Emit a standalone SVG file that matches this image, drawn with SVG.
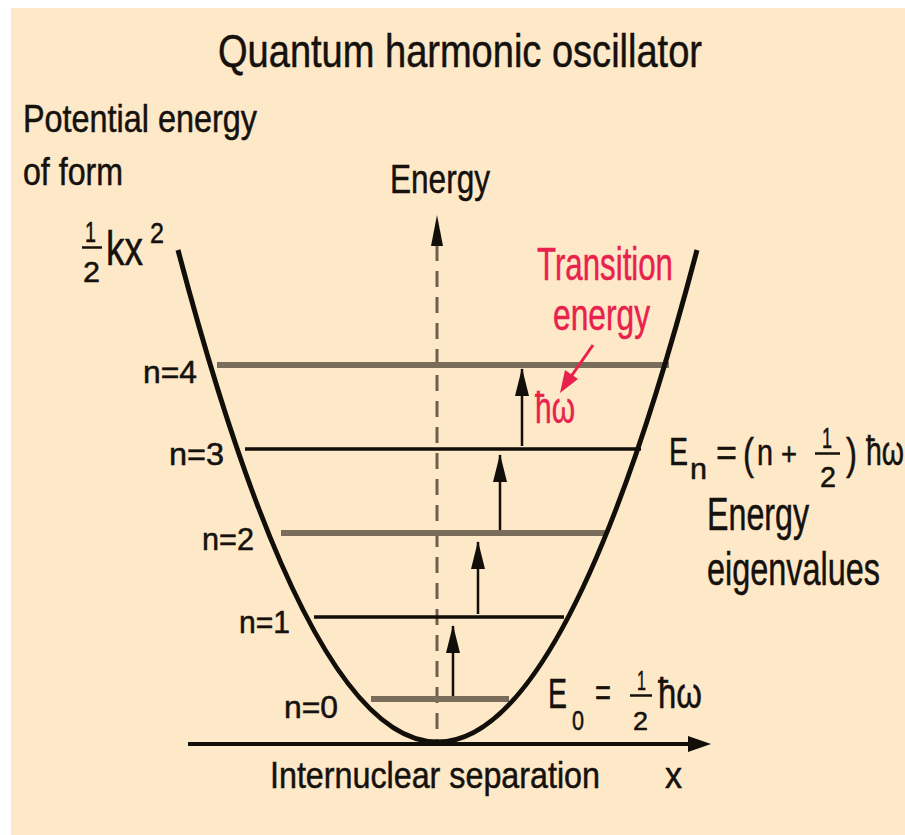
<svg xmlns="http://www.w3.org/2000/svg" width="905" height="835" viewBox="0 0 905 835">
<style>
  text { font-family: "Liberation Sans", Arial, sans-serif; fill: #15110d; stroke: #15110d; stroke-width: 0.5; }
  .red { fill: #e8224c; stroke: #e8224c; }
  .lvlg { stroke: #7a6c5a; stroke-width: 6; }
  .lvlb { stroke: #120e0a; stroke-width: 3.5; }
  .up { stroke: #120e0a; stroke-width: 2.5; fill: none; marker-end: url(#ah); }
</style>
<defs>
  <marker id="ah" markerUnits="userSpaceOnUse" markerWidth="16" markerHeight="30" viewBox="0 0 16 30" refX="8" refY="1" orient="0">
    <polygon points="8,0 15,28 1,28" fill="#120e0a"/>
  </marker>
</defs>
<rect x="0" y="0" width="905" height="835" fill="#ffffff"/>
<rect x="11" y="8" width="894" height="827" fill="#fde8c8"/>

<g id="title">
  <text x="218" y="67" font-size="46" textLength="484" lengthAdjust="spacingAndGlyphs">Quantum harmonic oscillator</text>
</g>

<g id="potential-label">
  <text x="23" y="132" font-size="38" textLength="234" lengthAdjust="spacingAndGlyphs">Potential energy</text>
  <text x="23" y="185" font-size="38" textLength="100" lengthAdjust="spacingAndGlyphs">of form</text>
  <text x="85" y="242" font-size="30" textLength="11" lengthAdjust="spacingAndGlyphs">1</text>
  <line x1="82" y1="247.5" x2="102" y2="247.5" stroke="#15110d" stroke-width="2.5"/>
  <text x="83" y="282" font-size="30" textLength="17" lengthAdjust="spacingAndGlyphs">2</text>
  <text x="106" y="265" font-size="48" textLength="37" lengthAdjust="spacingAndGlyphs">kx</text>
  <text x="150" y="243" font-size="30" textLength="14" lengthAdjust="spacingAndGlyphs">2</text>
</g>

<g id="energy-axis">
  <line x1="437" y1="245" x2="437" y2="742" stroke="#6e604e" stroke-width="3" stroke-dasharray="16 10"/>
  <polygon points="437,215 443,246 431,246" fill="#120e0a"/>
  <text x="390" y="193" font-size="41" textLength="100" lengthAdjust="spacingAndGlyphs">Energy</text>
</g>

<g id="levels">
  <line class="lvlg" x1="217" y1="365" x2="669" y2="365"/>
  <line class="lvlb" x1="245" y1="449" x2="641" y2="449"/>
  <line class="lvlg" x1="281" y1="533" x2="605" y2="533"/>
  <line class="lvlb" x1="314" y1="617" x2="564" y2="617"/>
  <line class="lvlg" x1="371" y1="699" x2="509" y2="699"/>
</g>

<g id="level-labels">
  <text x="143" y="383" font-size="31" textLength="54" lengthAdjust="spacingAndGlyphs">n=4</text>
  <text x="169" y="465" font-size="31" textLength="55" lengthAdjust="spacingAndGlyphs">n=3</text>
  <text x="202" y="550" font-size="31" textLength="52" lengthAdjust="spacingAndGlyphs">n=2</text>
  <text x="239" y="633" font-size="31" textLength="51" lengthAdjust="spacingAndGlyphs">n=1</text>
  <text x="284" y="718" font-size="31" textLength="54" lengthAdjust="spacingAndGlyphs">n=0</text>
</g>

<g id="x-axis">
  <line x1="188" y1="744" x2="692" y2="744" stroke="#120e0a" stroke-width="4"/>
  <polygon points="711,744 688,736 688,752" fill="#120e0a"/>
  <text x="270" y="788" font-size="36" textLength="330" lengthAdjust="spacingAndGlyphs">Internuclear separation</text>
  <text x="665" y="788" font-size="36" textLength="17" lengthAdjust="spacingAndGlyphs">x</text>
</g>

<g id="potential-curve">
  <path d="M178,250 Q437.5,1234 697,250" fill="none" stroke="#120e0a" stroke-width="5"/>
</g>

<g id="connectors">
  <line class="up" x1="453" y1="696" x2="453" y2="626"/>
  <line class="up" x1="478" y1="614" x2="478" y2="542"/>
  <line class="up" x1="500" y1="530" x2="500" y2="455"/>
  <line class="up" x1="522" y1="446" x2="522" y2="369"/>
  <line x1="593" y1="345" x2="570" y2="378" stroke="#e8224c" stroke-width="3"/>
  <polygon points="560,393 565,370 578,379" fill="#e8224c"/>
</g>

<g id="transition-label">
  <text class="red" x="537" y="280" font-size="46" textLength="136" lengthAdjust="spacingAndGlyphs">Transition</text>
  <text class="red" x="553" y="330" font-size="44" textLength="97" lengthAdjust="spacingAndGlyphs">energy</text>
  <text class="red" x="535" y="423" font-size="44" textLength="40" lengthAdjust="spacingAndGlyphs">ħω</text>
</g>

<g id="eigen-label">
  <text x="669" y="465" font-size="39" textLength="19" lengthAdjust="spacingAndGlyphs">E</text>
  <text x="690" y="479" font-size="30" textLength="17" lengthAdjust="spacingAndGlyphs">n</text>
  <text x="716" y="465" font-size="36" textLength="21" lengthAdjust="spacingAndGlyphs">=</text>
  <text x="743" y="469" font-size="44" textLength="11" lengthAdjust="spacingAndGlyphs">(</text>
  <text x="757" y="465" font-size="36" textLength="16" lengthAdjust="spacingAndGlyphs">n</text>
  <text x="781" y="465" font-size="32" textLength="16" lengthAdjust="spacingAndGlyphs">+</text>
  <text x="822" y="448" font-size="30" textLength="10" lengthAdjust="spacingAndGlyphs">1</text>
  <line x1="815" y1="453.5" x2="840" y2="453.5" stroke="#15110d" stroke-width="2.5"/>
  <text x="820" y="487" font-size="30" textLength="16" lengthAdjust="spacingAndGlyphs">2</text>
  <text x="846" y="469" font-size="44" textLength="11" lengthAdjust="spacingAndGlyphs">)</text>
  <text x="866" y="465" font-size="40" textLength="38" lengthAdjust="spacingAndGlyphs">ħω</text>
  <text x="707" y="530" font-size="46" textLength="102" lengthAdjust="spacingAndGlyphs">Energy</text>
  <text x="707" y="585" font-size="46" textLength="173" lengthAdjust="spacingAndGlyphs">eigenvalues</text>
</g>

<g id="ground-label">
  <text x="548" y="708" font-size="42" textLength="19" lengthAdjust="spacingAndGlyphs">E</text>
  <text x="572" y="730" font-size="28" textLength="12" lengthAdjust="spacingAndGlyphs">0</text>
  <text x="595" y="706" font-size="38" textLength="16" lengthAdjust="spacingAndGlyphs">=</text>
  <text x="637" y="690" font-size="28" textLength="9" lengthAdjust="spacingAndGlyphs">1</text>
  <line x1="630" y1="695.5" x2="652" y2="695.5" stroke="#15110d" stroke-width="2.5"/>
  <text x="633" y="730" font-size="26" textLength="15" lengthAdjust="spacingAndGlyphs">2</text>
  <text x="658" y="708" font-size="42" textLength="44" lengthAdjust="spacingAndGlyphs">ħω</text>
</g>
</svg>
